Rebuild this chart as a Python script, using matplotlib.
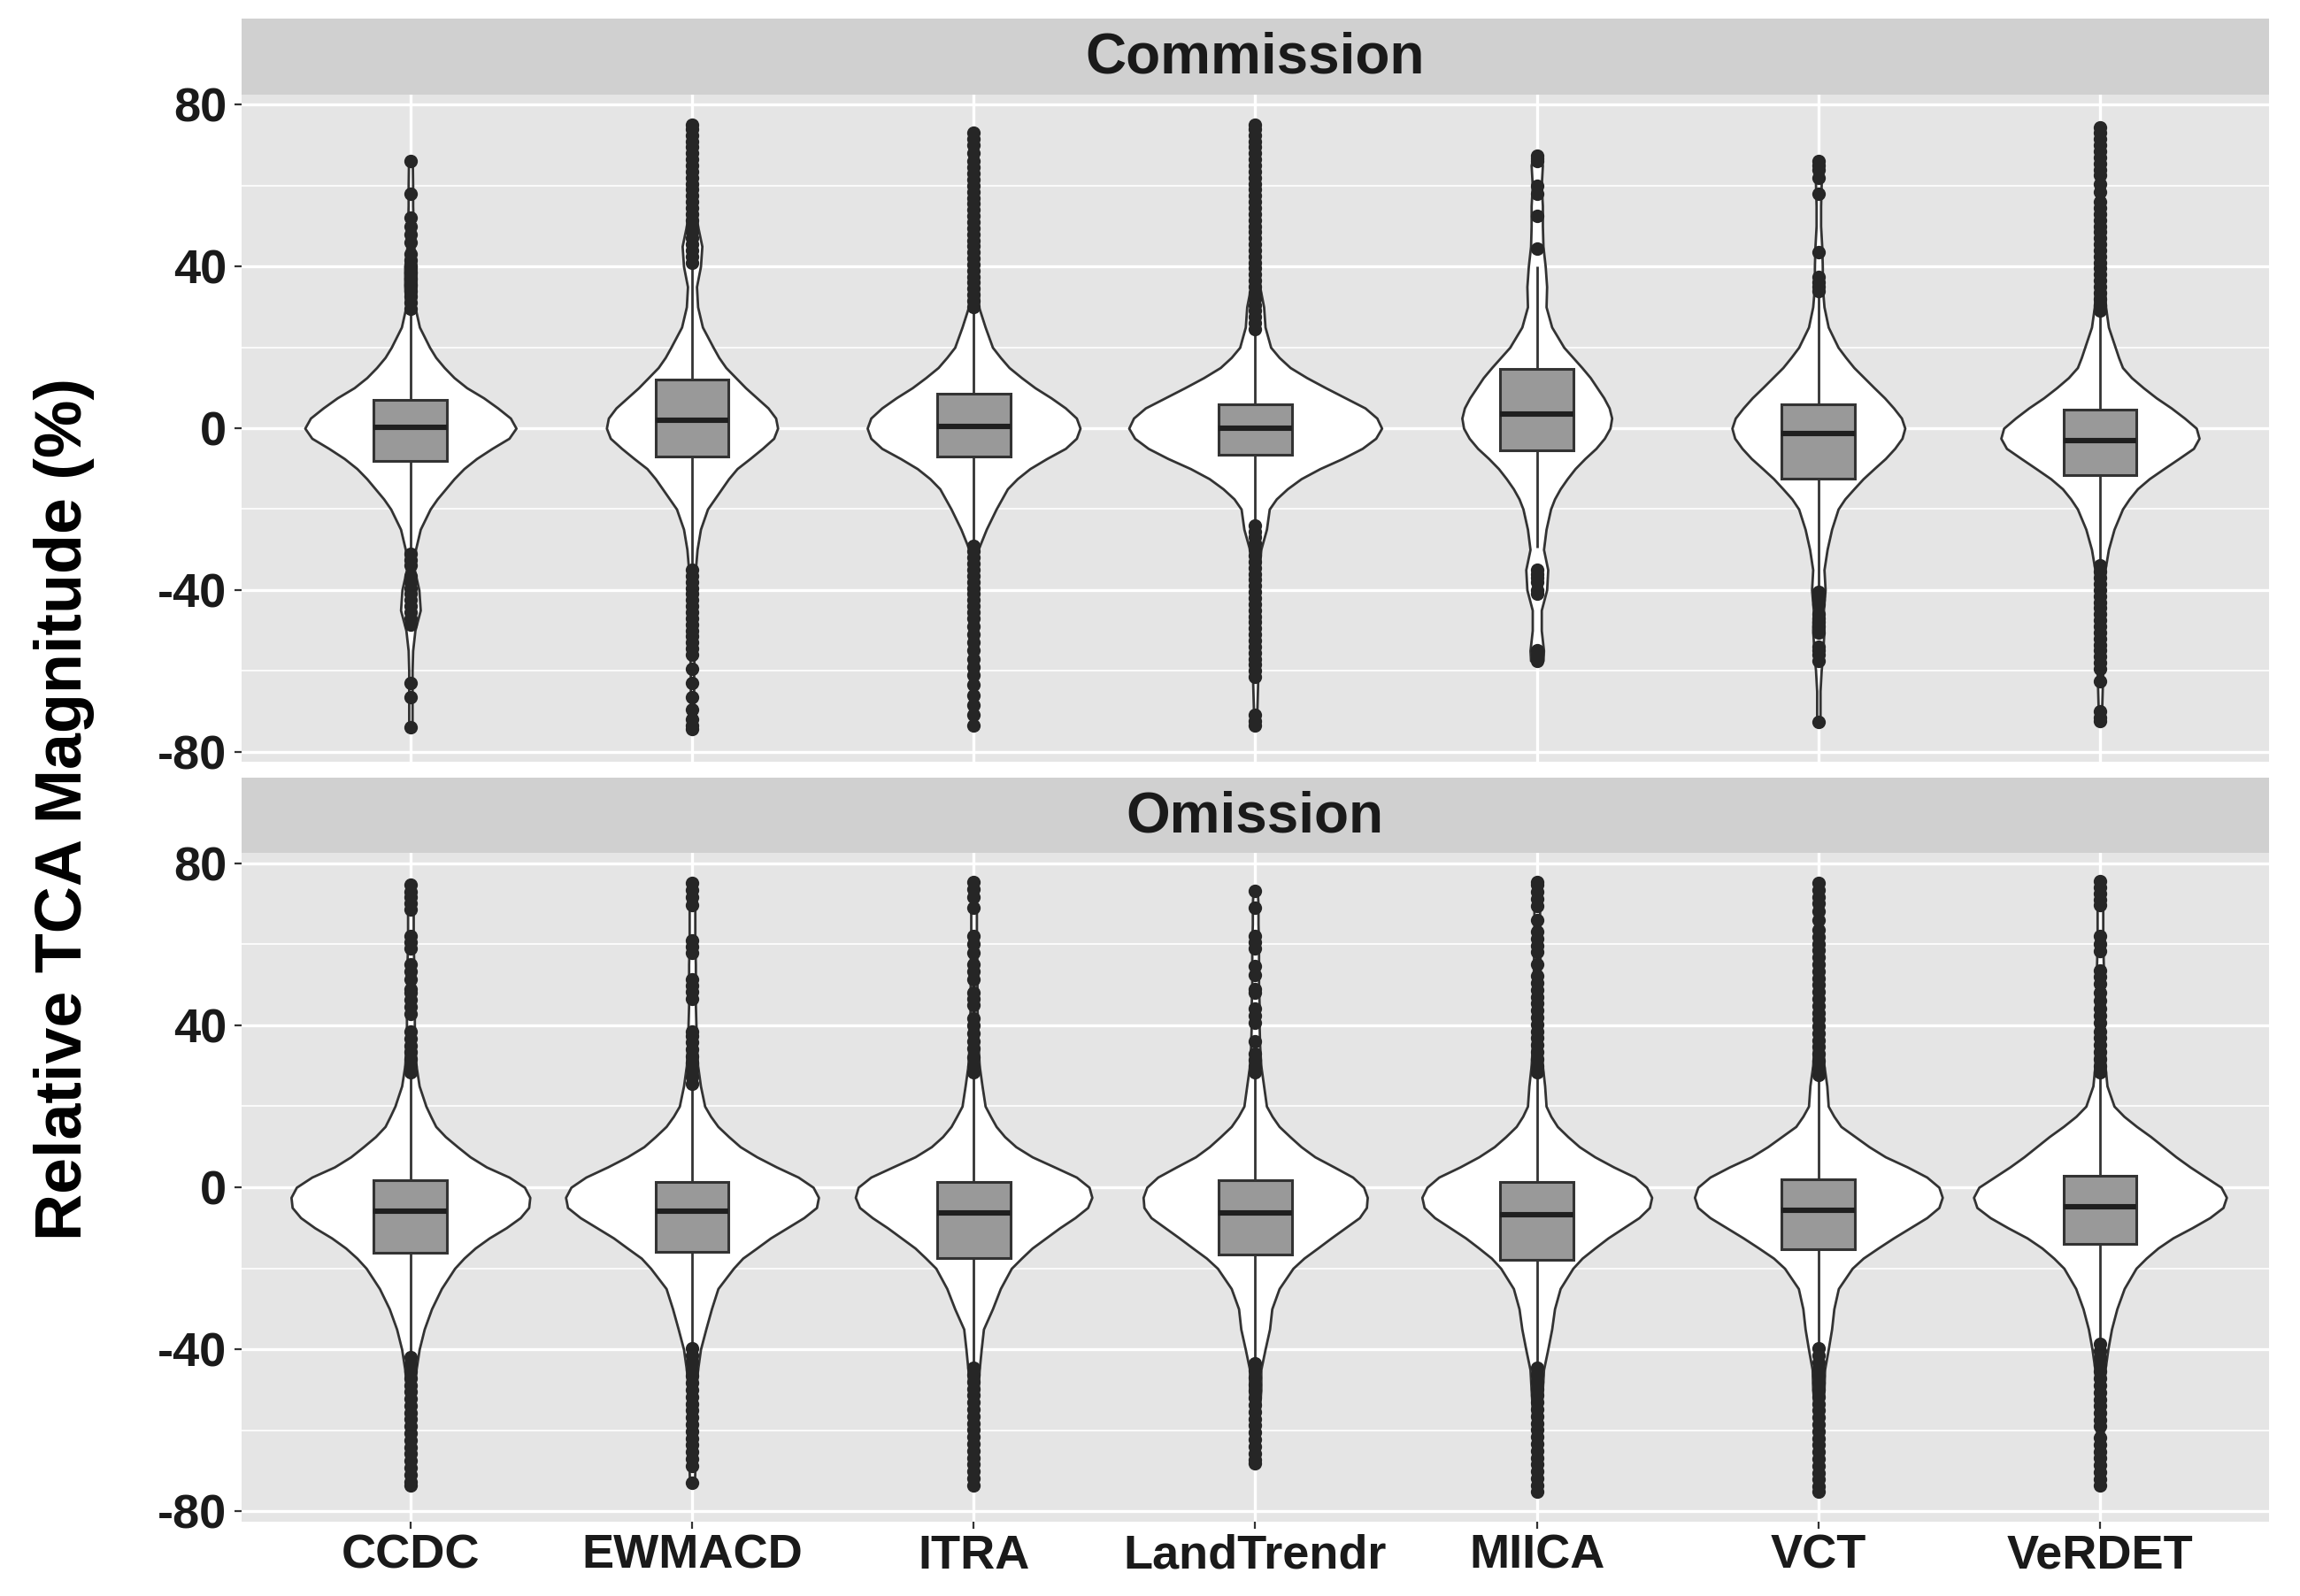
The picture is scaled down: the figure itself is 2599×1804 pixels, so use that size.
import numpy as np
import matplotlib
matplotlib.use("Agg")
import matplotlib.pyplot as plt
from matplotlib.patches import Rectangle

plt.rcParams['font.family'] = ['Liberation Sans', 'DejaVu Sans']
plt.rcParams['font.weight'] = 'bold'

methods = ['CCDC', 'EWMACD', 'ITRA', 'LandTrendr', 'MIICA', 'VCT', 'VeRDET']
panels = ['Commission', 'Omission']

# violin half-widths (in category units) at these magnitudes
grid_v = [75, 70, 65, 60, 55, 50, 45, 40, 35, 30, 25, 20, 17.5, 15, 12.5, 10, 7.5, 5, 2.5, 0,
          -2.5, -5, -7.5, -10, -12.5, -15, -17.5, -20, -25, -30, -35, -40, -45, -50, -55, -60, -65, -70, -75]

commission_widths = [
    [.006, .006, .007, .008, .008, .010, .012, .020, .020, .016, .032, .068, .090, .120, .155, .200, .260, .310, .355, .375,
     .350, .290, .235, .190, .155, .125, .095, .070, .035, .018, .014, .030, .035, .016, .008, .006, .006, .006, .006],
    [.006, .008, .008, .010, .012, .020, .035, .030, .016, .020, .037, .075, .095, .120, .155, .190, .230, .270, .297, .304,
     .290, .250, .206, .160, .130, .105, .080, .055, .030, .018, .012, .010, .010, .008, .008, .006, .006, .006, .006],
    [.006, .008, .008, .010, .010, .010, .012, .014, .016, .018, .041, .067, .095, .126, .170, .218, .275, .326, .365, .378,
     .365, .326, .260, .200, .155, .120, .100, .080, .045, .016, .012, .010, .010, .008, .008, .006, .006, .006, .006],
    [.006, .008, .008, .010, .010, .012, .012, .014, .016, .030, .035, .055, .085, .124, .183, .250, .320, .390, .432, .449,
     .428, .380, .310, .230, .163, .114, .075, .050, .040, .020, .014, .012, .012, .012, .010, .010, .008, .006, .006],
    [.006, .006, .020, .016, .020, .020, .022, .030, .035, .033, .053, .096, .128, .160, .190, .214, .238, .257, .266, .260,
     .240, .210, .171, .136, .108, .083, .063, .049, .033, .024, .039, .035, .016, .016, .024, .020, .006, .006, .006],
    [.006, .006, .012, .010, .008, .008, .012, .014, .014, .020, .035, .070, .097, .126, .162, .198, .235, .267, .295, .307,
     .297, .271, .238, .198, .159, .126, .094, .070, .047, .031, .020, .024, .018, .020, .016, .010, .006, .006, .006],
    [.006, .008, .010, .010, .010, .012, .012, .014, .016, .020, .030, .054, .066, .080, .112, .154, .200, .253, .300, .342,
     .352, .332, .280, .227, .175, .133, .104, .080, .050, .030, .018, .014, .012, .012, .012, .010, .008, .006, .006],
]
omission_widths = [
    [.008, .010, .010, .010, .012, .012, .014, .014, .016, .020, .031, .055, .072, .090, .124, .167, .212, .270, .350, .405,
     .424, .420, .390, .340, .280, .230, .190, .157, .110, .075, .049, .031, .020, .014, .012, .012, .010, .010, .008],
    [.008, .010, .010, .010, .012, .012, .012, .014, .016, .020, .030, .045, .066, .092, .130, .171, .230, .300, .377, .430,
     .449, .442, .397, .338, .279, .230, .180, .147, .092, .069, .049, .030, .020, .014, .012, .012, .010, .010, .008],
    [.008, .010, .010, .010, .012, .012, .012, .014, .016, .020, .030, .041, .060, .080, .110, .150, .208, .287, .365, .410,
     .420, .405, .360, .306, .257, .208, .170, .134, .095, .067, .035, .027, .020, .016, .014, .012, .012, .010, .008],
    [.006, .010, .010, .012, .012, .012, .014, .014, .016, .020, .030, .040, .060, .085, .123, .163, .212, .280, .346, .385,
     .398, .395, .370, .320, .270, .222, .173, .134, .085, .059, .051, .035, .020, .020, .015, .012, .012, .006, .006],
    [.008, .010, .010, .010, .012, .012, .012, .014, .016, .020, .028, .033, .050, .073, .110, .151, .206, .273, .348, .390,
     .408, .400, .363, .308, .253, .206, .161, .128, .083, .063, .053, .039, .024, .020, .016, .014, .012, .010, .008],
    [.008, .010, .010, .010, .012, .012, .012, .014, .016, .020, .030, .035, .055, .080, .130, .180, .238, .316, .385, .428,
     .440, .428, .385, .326, .267, .212, .159, .120, .071, .055, .047, .035, .022, .020, .014, .012, .012, .010, .008],
    [.008, .010, .010, .010, .012, .012, .012, .014, .016, .018, .025, .050, .085, .130, .180, .225, .270, .320, .375, .430,
     .449, .437, .390, .327, .259, .206, .164, .128, .086, .060, .041, .028, .018, .014, .012, .012, .012, .010, .008],
]

# box statistics
commission_q1 = [-8.1, -7.0, -7.0, -6.5, -5.4, -12.5, -11.5]
commission_med = [0.2, 2.0, 0.5, 0.0, 3.4, -1.4, -3.0]
commission_q3 = [6.9, 12.1, 8.5, 6.0, 14.7, 6.0, 4.5]
commission_wlo = [-30.5, -34.5, -28.5, -23.5, -29.5, -39.5, -33.5]
commission_whi = [29.0, 40.5, 29.5, 24.0, 40.0, 33.5, 28.5]

omission_q1 = [-16.2, -15.9, -17.5, -16.7, -17.8, -15.3, -14.0]
omission_med = [-5.8, -5.8, -6.3, -6.3, -6.8, -5.7, -4.7]
omission_q3 = [1.8, 1.3, 1.3, 1.8, 1.3, 2.0, 2.9]
omission_wlo = [-42.0, -39.8, -44.6, -43.5, -44.6, -39.8, -38.7]
omission_whi = [28.3, 25.6, 28.3, 28.3, 28.3, 27.8, 28.3]

# outliers above / below the whiskers
commission_hi = [
    [29.5, 31, 32.5, 34, 35.5, 37, 38.5, 40, 41.5, 43, 46, 48, 50, 52, 58, 66],
    [41, 42.5, 44, 45.5, 47, 48.5, 50, 51.5, 53, 54.5, 56, 57.5, 59, 60.5, 62, 63.5, 65, 66.5, 68, 69.5, 71, 72.5, 74, 75],
    [30, 31.5, 33, 34.5, 36, 37.5, 39, 40.5, 42, 43.5, 45, 46.5, 48, 49.5, 51, 52.5, 54, 55.5, 57, 58.5, 60, 61.5, 63,
     64.5, 66, 68, 70, 71.5, 73],
    [24.5, 26, 27.5, 29, 30.5, 32, 33.5, 35, 36.5, 38, 39.5, 41, 42.5, 44, 45.5, 47, 48.5, 50, 51.5, 53, 54.5, 56, 57.5,
     59, 60.5, 62, 63.5, 65, 66.5, 68, 69.5, 71, 72.5, 74, 75],
    [44.5, 52.5, 58, 60, 66, 66.8, 67.5],
    [34, 35, 36, 37.5, 43.5, 58, 62, 64, 65, 66],
    [29, 30.5, 32, 33.5, 35, 36.5, 38, 39.5, 41, 42.5, 44, 45.5, 47, 48.5, 50, 51.5, 53, 54.5, 56, 58.5, 60.5, 62.5, 64,
     65.5, 67, 68.5, 70, 71.5, 73, 74.5],
]
commission_lo = [
    [-31, -32.5, -34, -36.5, -38, -39.5, -41, -42.5, -44, -45.5, -47, -48.5, -63, -66.5, -74],
    [-35, -36.5, -38, -39.5, -41, -42.5, -44, -45.5, -47, -48.5, -50, -51.5, -53, -54.5, -56, -59.5, -63, -66.5, -69.5,
     -72, -73.5, -74.5],
    [-29, -30.5, -32, -33.5, -35, -36.5, -38, -39.5, -41, -42.5, -44, -45.5, -47, -49, -51, -53, -55, -57, -59, -61,
     -63.5, -66, -68.5, -71, -73.5],
    [-24, -25.5, -27, -28.5, -30, -31.5, -33, -34.5, -36, -37.5, -39, -40.5, -42, -43.5, -45, -46.5, -48, -49.5, -51,
     -52.5, -54, -55.5, -57, -58.5, -60, -61.5, -71, -72.5, -73.5],
    [-35, -36, -37, -38, -40, -41, -55, -56, -57, -57.5],
    [-40.5, -41.5, -42.5, -43.5, -46, -47, -48, -49, -50.5, -54, -55, -56, -57.5, -72.7],
    [-34, -35.5, -37, -38.5, -40, -41.5, -43, -44.5, -46, -47.5, -49, -50.5, -52, -53.5, -55, -56.5, -58, -59.5, -62.5,
     -70, -71.5, -72.5],
]
omission_hi = [
    [28.3, 30, 31.7, 33.4, 35, 36.7, 38.5, 42.8, 44.5, 46.2, 48, 49, 51.4, 53.2, 55, 58.9, 60.5, 62, 68.5, 70, 71.5, 73,
     74.7],
    [25.6, 27.3, 29, 30.7, 32.3, 34, 35.7, 37.4, 38.5, 46.5, 48.2, 49.8, 51.4, 57.8, 59.4, 61, 69.6, 71.7, 73.3, 75],
    [28.3, 30, 32, 34.2, 36, 38, 40, 41.7, 45, 46.5, 48, 51.4, 53.2, 55, 57.8, 60, 62, 69, 71.7, 73.5, 75.2],
    [28.3, 30, 31.5, 33, 36, 40.5, 42.3, 44.2, 48, 49, 52.4, 54.6, 58.9, 60.5, 62, 69, 73.1],
    [28.3, 30, 31.7, 33.4, 35.1, 36.8, 38.5, 40.2, 41.9, 43.6, 45.3, 47, 48.7, 50.4, 52.1, 55, 58, 59.7, 61.4, 63.1, 66,
     69.5, 71.2, 72.9, 74.6, 75.3],
    [27.8, 29.5, 31.2, 32.9, 34.6, 36.3, 38, 39.7, 41.4, 43.1, 44.8, 46.5, 48.2, 49.9, 51.6, 53.3, 55, 56.7, 58.4, 60.1,
     61.8, 63.5, 66, 68, 70, 71.7, 73.4, 75.1],
    [28.3, 30, 31.7, 33.4, 35.1, 36.8, 38.5, 40.6, 42.4, 44.2, 46, 48, 50.3, 52, 53.5, 58.3, 60.1, 62, 69.6, 71, 72.5,
     74, 75.5],
]
omission_lo = [
    [-42, -43.7, -45.4, -47.1, -48.8, -50.5, -52.2, -53.9, -55.6, -57.3, -59, -60.7, -62.4, -64.1, -65.8, -67.5, -69.2,
     -70.9, -72.6, -73.6],
    [-39.8, -41.5, -43.2, -44.9, -46.6, -48.3, -50, -51.7, -53.4, -55.1, -56.8, -58.5, -60.2, -61.9, -63.6, -65.3, -67,
     -68.7, -73],
    [-44.6, -46.3, -48, -49.7, -51.4, -53.1, -54.8, -56.5, -58.2, -59.9, -61.6, -63.3, -65, -66.7, -68.4, -70.1, -71.8,
     -73.6],
    [-43.5, -45.2, -46.9, -48.6, -50.3, -52, -53.7, -55.4, -57.1, -58.8, -60.5, -62.2, -63.9, -65.6, -67.3, -68.2],
    [-44.6, -46.3, -48, -49.7, -51.4, -53.1, -54.8, -56.5, -58.2, -59.9, -61.6, -63.3, -65, -66.7, -68.4, -70.1, -71.8,
     -73.5, -75],
    [-39.8, -41.5, -43.2, -44.9, -46.6, -48.3, -50, -51.7, -53.4, -55.1, -56.8, -58.5, -60.2, -61.9, -63.6, -65.3, -67,
     -68.7, -70.4, -72.1, -73.8, -75],
    [-38.7, -40.4, -42.1, -43.8, -45.5, -47.2, -48.9, -50.6, -52.3, -54, -55.7, -57.4, -59, -61.8, -63.5, -65.2, -66.9,
     -68.6, -70.3, -72, -73.6],
]

PANEL_BG = '#E5E5E5'
STRIP_BG = '#D0D0D0'
LINE = '#333333'
BOX_FILL = '#999999'
DOT = '#262626'
TXT = '#1A1A1A'

fig = plt.figure(figsize=(25.99, 18.04), dpi=100)

ax_pos = [[0.1050, 0.5227, 0.8815, 0.4180], [0.1050, 0.0466, 0.8815, 0.4190]]
strip_pos = [[0.1050, 0.9407, 0.8815, 0.0477], [0.1050, 0.4656, 0.8815, 0.0471]]

data = [
    (commission_widths, commission_q1, commission_med, commission_q3, commission_wlo, commission_whi,
     commission_hi, commission_lo),
    (omission_widths, omission_q1, omission_med, omission_q3, omission_wlo, omission_whi,
     omission_hi, omission_lo),
]

grid_asc = np.array(grid_v[::-1], dtype=float)
xs = np.arange(1, len(methods) + 1)
box_half = 0.13

for p in range(2):
    widths, q1, med, q3, wlo, whi, hi, lo = data[p]
    ax = fig.add_axes(ax_pos[p])
    ax.set_facecolor(PANEL_BG)
    for s in ax.spines.values():
        s.set_visible(False)
    ax.set_xlim(0.4, 7.6)
    ax.set_ylim(-82.5, 82.5)
    ax.set_yticks([-80, -40, 0, 40, 80])
    ax.set_yticklabels(['-80', '-40', '0', '40', '80'])
    ax.set_yticks([-60, -20, 20, 60], minor=True)
    ax.set_xticks(xs)
    ax.grid(which='major', color='white', linewidth=2.4)
    ax.grid(which='minor', axis='y', color='white', linewidth=1.2)
    ax.set_axisbelow(True)
    ax.tick_params(axis='y', which='major', length=6, width=1.6, color=LINE, pad=6,
                   labelsize=39, labelcolor=TXT)
    ax.tick_params(axis='y', which='minor', length=0)
    if p == 1:
        ax.set_xticklabels(methods)
        ax.tick_params(axis='x', length=6, width=1.6, color=LINE, pad=4, labelsize=39, labelcolor=TXT)
    else:
        ax.tick_params(axis='x', length=0, labelbottom=False)
    for lab in ax.get_xticklabels() + ax.get_yticklabels():
        lab.set_fontweight('bold')

    for i, x in enumerate(xs):
        vmax = max(hi[i])
        vmin = min(lo[i])
        ys = [vmax] + [g for g in grid_v if vmin < g < vmax] + [vmin]
        ws = np.interp(ys, grid_asc, np.array(widths[i][::-1]))
        ax.fill_betweenx(ys, x - ws, x + ws, facecolor='white', edgecolor=LINE, linewidth=2.0, zorder=2)
        # whiskers
        ax.vlines(x, wlo[i], q1[i], color=LINE, linewidth=2.0, zorder=3)
        ax.vlines(x, q3[i], whi[i], color=LINE, linewidth=2.0, zorder=3)
        ax.add_patch(Rectangle((x - box_half, q1[i]), 2 * box_half, q3[i] - q1[i],
                               facecolor=BOX_FILL, edgecolor=LINE, linewidth=2.2, zorder=3))
        ax.hlines(med[i], x - box_half, x + box_half, color='#1F1F1F', linewidth=4.4, zorder=3.5)
        pts = hi[i] + lo[i]
        ax.plot([x] * len(pts), pts, 'o', markersize=11, color=DOT, markeredgewidth=0, zorder=4)

    sax = fig.add_axes(strip_pos[p])
    sax.set_facecolor(STRIP_BG)
    sax.set_xticks([])
    sax.set_yticks([])
    for s in sax.spines.values():
        s.set_visible(False)
    sax.text(0.5, 0.48, panels[p], ha='center', va='center', fontsize=46, fontweight='bold',
             color=TXT, transform=sax.transAxes)

fig.text(0.028, 0.493, 'Relative TCA Magnitude (%)', rotation=90, ha='center', va='center',
         fontsize=53, fontweight='bold', color='black')

fig.savefig('out.png', dpi=100, facecolor='white')
